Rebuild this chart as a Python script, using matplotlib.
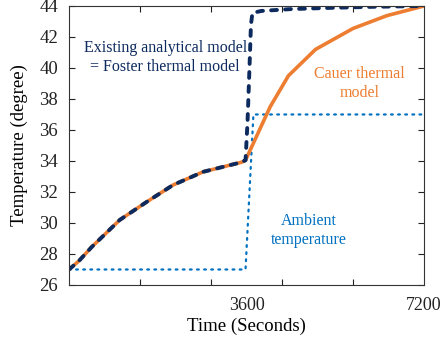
import matplotlib
matplotlib.use("Agg")
import matplotlib.pyplot as plt
from matplotlib.ticker import FixedLocator

plt.rcParams['font.family'] = ['Liberation Serif', 'DejaVu Serif']

# Cauer thermal model (orange)
cauer_t = [0, 200, 460, 1030, 1580, 2110, 2720, 3500, 3580, 4080, 4450, 5000, 5760, 6450, 7200]
cauer_y = [27.0, 27.55, 28.45, 30.2, 31.37, 32.45, 33.3, 33.92, 34.05, 37.5, 39.5, 41.2, 42.55, 43.38, 44.0]

# Foster thermal model / existing analytical model (navy dashed)
foster_t = [0, 200, 460, 1030, 1580, 2110, 2720, 3500, 3580, 3620, 3660, 3690, 3720, 3900, 4500, 5300, 6200, 7200]
foster_y = [27.0, 27.55, 28.45, 30.2, 31.37, 32.45, 33.3, 33.92, 34.05, 36.5, 40.0, 42.8, 43.55, 43.68, 43.8, 43.88, 43.95, 44.0]

# Ambient temperature (dotted)
amb_t = [0, 3580, 3740, 7200]
amb_y = [27.0, 27.0, 37.0, 37.0]

xticks = [3600, 7200]
xminor = [1440, 2880, 4320, 5760]
yticks = [26, 28, 30, 32, 34, 36, 38, 40, 42, 44]

navy = '#0d2a5e'
orange = '#ed7d31'
blue = '#0070c0'

fig = plt.figure(figsize=(4.41, 3.42), dpi=100)
ax = fig.add_axes([0.1565, 0.1667, 0.805, 0.8158])

ax.plot(amb_t, amb_y, color=blue, lw=1.6, linestyle=(0, (0.8, 2.4)), dash_capstyle='round')
ax.plot(cauer_t, cauer_y, color=orange, lw=2.6, solid_joinstyle='miter')
ax.plot(foster_t, foster_y, color=navy, lw=2.8, linestyle=(0, (1.5, 2.1)), dash_capstyle='round')

ax.set_xlim(0, 7200)
ax.set_ylim(26, 44)
ax.set_xticks(xticks)
ax.xaxis.set_minor_locator(FixedLocator(xminor))
ax.set_yticks(yticks)
ax.tick_params(which='both', direction='in', top=True, right=True, labelsize=13.5, colors='#222222', length=4, width=0.8)
ax.tick_params(axis='x', which='major', length=0, pad=9, labelsize=13)
ax.tick_params(axis='y', which='major', pad=8)
for s in ax.spines.values():
    s.set_color('#333333')
    s.set_linewidth(0.8)

ax.set_xlabel('Time (Seconds)', fontsize=13.5, labelpad=2)
ax.set_ylabel('Temperature (degree)', fontsize=13.5, labelpad=8)

ax.text(1950, 40.68, 'Existing analytical model\n= Foster thermal model', color=navy, fontsize=11.5,
        ha='center', va='center', linespacing=1.25)
ax.text(5890, 39.03, 'Cauer thermal\nmodel', color=orange, fontsize=11.5,
        ha='center', va='center', linespacing=1.25)
ax.text(4860, 29.5, 'Ambient\ntemperature', color=blue, fontsize=11.5,
        ha='center', va='center', linespacing=1.25)

fig.savefig('out.png', dpi=100)
